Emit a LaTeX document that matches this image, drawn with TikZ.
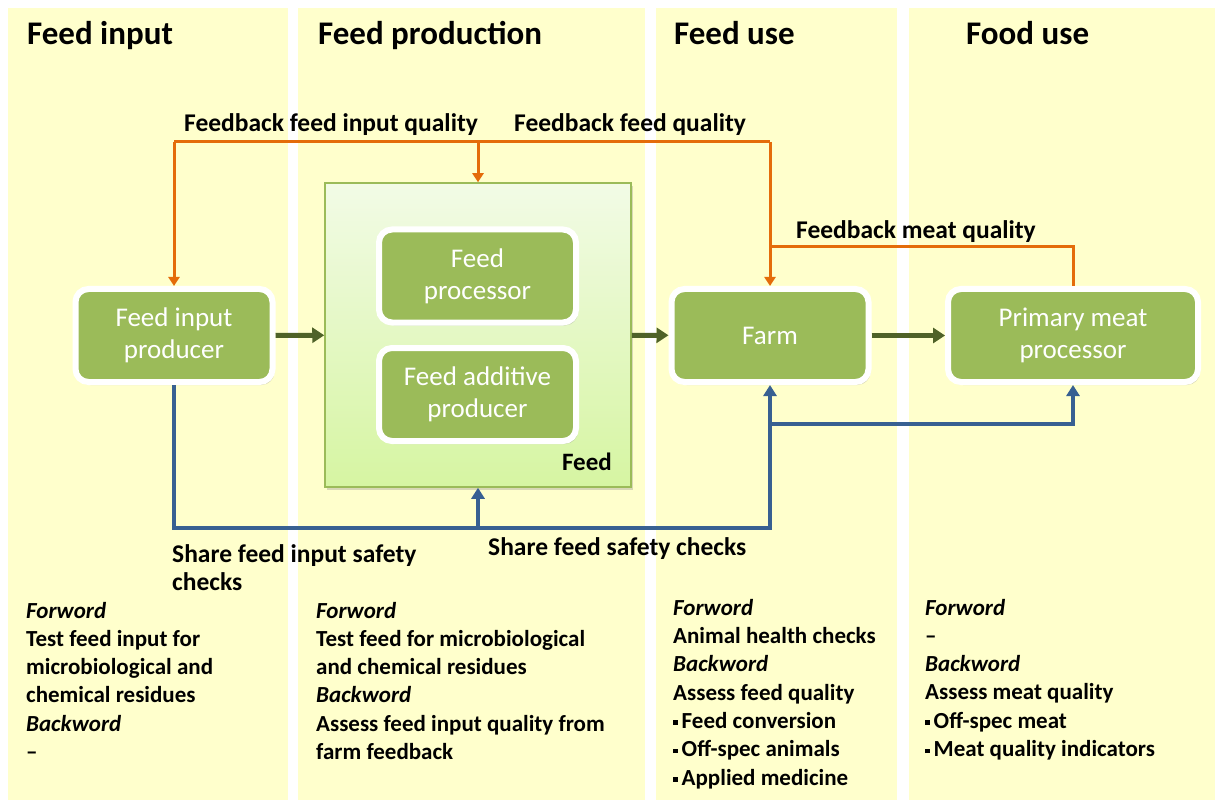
\documentclass[tikz,border=0pt]{standalone}
\usepackage{fontspec}
\setmainfont{Carlito}
\usetikzlibrary{arrows.meta,shadows}

\definecolor{colbg}{RGB}{255,255,204}
\definecolor{boxgreen}{RGB}{155,187,89}
\definecolor{darkgreen}{RGB}{79,98,40}
\definecolor{fborange}{RGB}{228,108,10}
\definecolor{shareblue}{RGB}{56,96,146}
\definecolor{feedtop}{RGB}{242,251,230}
\definecolor{feedbot}{RGB}{214,245,162}

\newcommand{\nbul}{\raisebox{3.5pt}{\rule{4.5pt}{4.5pt}}\hspace{4pt}}

\begin{document}
\begin{tikzpicture}[x=1pt,y=-1pt,
  column/.style={fill=colbg},
  header/.style={anchor=base west,inner sep=0,font=\fontsize{33}{36}\selectfont\bfseries},
  procbox/.style={draw=white,line width=6pt,rounded corners=13pt,fill=boxgreen,text=white,align=center,
    minimum width=197pt,minimum height=93pt,inner sep=0,font=\fontsize{27}{32}\selectfont,
    drop shadow={opacity=0.3,shadow xshift=2pt,shadow yshift=-3pt}},
  feedbox/.style={draw=boxgreen,line width=1.5pt,top color=feedtop,bottom color=feedbot,
    minimum width=306pt,minimum height=304pt,inner sep=0,
    drop shadow={opacity=0.3,shadow xshift=2pt,shadow yshift=-3pt}},
  flowlabel/.style={anchor=base west,inner sep=0,align=left,font=\fontsize{25.5}{28}\selectfont\bfseries},
  notes/.style={anchor=base west,inner sep=0,align=left,font=\fontsize{23}{28.3}\selectfont\bfseries},
  orangeline/.style={draw=fborange,line width=3pt},
  blueline/.style={draw=shareblue,line width=4pt},
  greenarrow/.style={draw=darkgreen,line width=5pt,-{Triangle[width=15pt,length=12pt]}},
  otip/.style={-{Triangle[width=11pt,length=9pt]}},
  btip/.style={-{Triangle[width=13pt,length=11pt]}}]

\useasboundingbox (0,0) rectangle (1223,802);
\fill[white] (0,0) rectangle (1223,802);

 \fill [column] (8,8) rectangle (288,800);
 \fill [column] (298,8) rectangle (645,800);
 \fill [column] (656,8) rectangle (897,800);
 \fill [column] (909,8) rectangle (1215,800);

 \node (hin) at (27,45) [header] {Feed input};
 \node (hprod) at (318,45) [header] {Feed production};
 \node (huse) at (674,45) [header] {Feed use};
 \node (hfood) at (966,45) [header] {Food use};

 \coordinate (fbtop) at (0,142);
 \coordinate (meattop) at (0,247);
 \coordinate (sharemid) at (0,424);
 \coordinate (sharebot) at (0,528);

 \node (feed) at (478,335) [feedbox] {};
 \node (feedlbl) at (612,470) [anchor=base east,inner sep=0,font=\fontsize{25}{28}\selectfont\bfseries] {Feed};

 \node (fip) at (174,335.5) [procbox] {Feed input\\producer};
 \node (fproc) at (477.5,276) [procbox] {Feed\\processor};
 \node (fadd) at (477.5,394.5) [procbox] {Feed additive\\producer};
 \node (farm) at (770,335.5) [procbox] {Farm};
 \node (pmp) at (1073,335.5) [procbox,minimum width=250pt] {Primary meat\\processor};

 \draw [greenarrow] (fip) -- (feed);
 \draw [greenarrow] (feed) -- (farm);
 \draw [greenarrow] (farm) -- (pmp);

 \draw [orangeline] (fip.north |- fbtop) -- (farm.north |- fbtop);
 \draw [orangeline,otip] (fip.north |- fbtop) -- (fip.north);
 \draw [orangeline,otip] (feed.north |- fbtop) -- (feed.north);
 \draw [orangeline,otip] (farm.north |- fbtop) -- (farm.north);
 \draw [orangeline] (pmp.north) |- (farm.north |- meattop);

 \draw [blueline,btip] (fip.south) |- (farm.south |- sharebot) -- (farm.south);
 \draw [blueline,btip] (feed.south |- sharebot) -- (feed.south);
 \draw [blueline,btip] (farm.south |- sharemid) -| (pmp.south);

 \node (lfin) at (184,132) [flowlabel] {Feedback feed input quality};
 \node (lffeed) at (514,132) [flowlabel] {Feedback feed quality};
 \node (lfmeat) at (796,239) [flowlabel] {Feedback meat quality};
 \node (lsin) at (172,590) [flowlabel] {Share feed input safety\\checks};
 \node (lsfeed) at (488,555) [flowlabel] {Share feed safety checks};

 \node (nin) at (26,759.5) [notes] {\textit{Forword}\\Test feed input for\\microbiological and\\chemical residues\\\textit{Backword}\\–};
 \node (nprod) at (316,759.5) [notes] {\textit{Forword}\\Test feed for microbiological\\and chemical residues\\\textit{Backword}\\Assess feed input quality from\\farm feedback};
 \node (nuse) at (673,785) [notes] {\textit{Forword}\\Animal health checks\\\textit{Backword}\\Assess feed quality\\\nbul Feed conversion\\\nbul Off-spec animals\\\nbul Applied medicine};
 \node (nfood) at (925,756.5) [notes] {\textit{Forword}\\–\\\textit{Backword}\\Assess meat quality\\\nbul Off-spec meat\\\nbul Meat quality indicators};

\end{tikzpicture}
\end{document}
